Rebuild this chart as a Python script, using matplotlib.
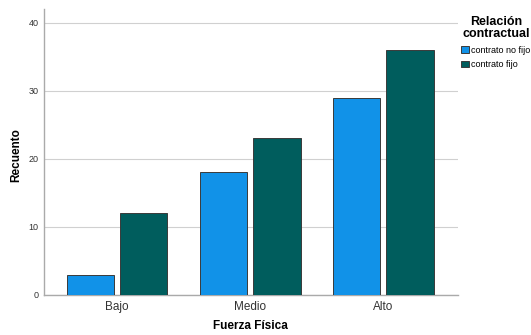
import matplotlib
matplotlib.use("Agg")
import matplotlib.pyplot as plt
import numpy as np

categories = ["Bajo", "Medio", "Alto"]
series_names = ["contrato no fijo", "contrato fijo"]
no_fijo = [3, 18, 29]
fijo = [12, 23, 36]
colors = ["#1192e8", "#005d5d"]
yticks = [0, 10, 20, 30, 40]

plt.rcParams['font.family'] = ['Liberation Sans', 'DejaVu Sans']

fig = plt.figure(figsize=(5.31, 3.35), dpi=100)
ax = fig.add_axes([44/531, 40/335, (458-44)/531, (295-9)/335])

x = np.arange(len(categories))
w = 0.355
gap = 0.045
off = (w + gap) / 2
ax.bar(x - off, no_fijo, w, color=colors[0], edgecolor="#3a3a3a", linewidth=0.7, label=series_names[0], zorder=3)
ax.bar(x + off, fijo, w, color=colors[1], edgecolor="#3a3a3a", linewidth=0.7, label=series_names[1], zorder=3)

ax.set_xlim(-0.55, 2.56)
ax.set_ylim(0, 42)
ax.set_yticks(yticks)
ax.set_yticklabels([str(t) for t in yticks], fontsize=6.5, color="#333333")
ax.set_xticks(x)
ax.set_xticklabels(categories, fontsize=8.5, color="#333333")
ax.tick_params(axis='both', length=0, pad=4)
ax.tick_params(axis='y', pad=4)
ax.yaxis.grid(True, color="#d0d0d0", linewidth=0.8, zorder=0)
ax.set_axisbelow(True)
for s in ["top", "right"]:
    ax.spines[s].set_visible(False)
for s in ["left", "bottom"]:
    ax.spines[s].set_color("#aaaaaa")
    ax.spines[s].set_linewidth(1.0)

fig.text(16/531, 1 - 155/335, "Recuento", fontsize=8.5, fontweight="bold",
         rotation=90, ha="center", va="center")
fig.text(250/531, 1 - 326/335, "Fuerza Física", fontsize=8.5, fontweight="bold",
         ha="center", va="center")

leg = fig.legend(loc="upper left", bbox_to_anchor=(455/531, 1 - 10/335), frameon=False,
                 title="Relación\ncontractual", fontsize=6.5,
                 title_fontproperties={"weight": "bold", "size": 9},
                 handlelength=0.8, handleheight=0.8, handletextpad=0.3,
                 labelspacing=0.6, borderpad=0.2, alignment="center")
leg.get_title().set_multialignment("center")
leg.get_title().set_linespacing(1.0)

fig.savefig("out.png", dpi=100)
